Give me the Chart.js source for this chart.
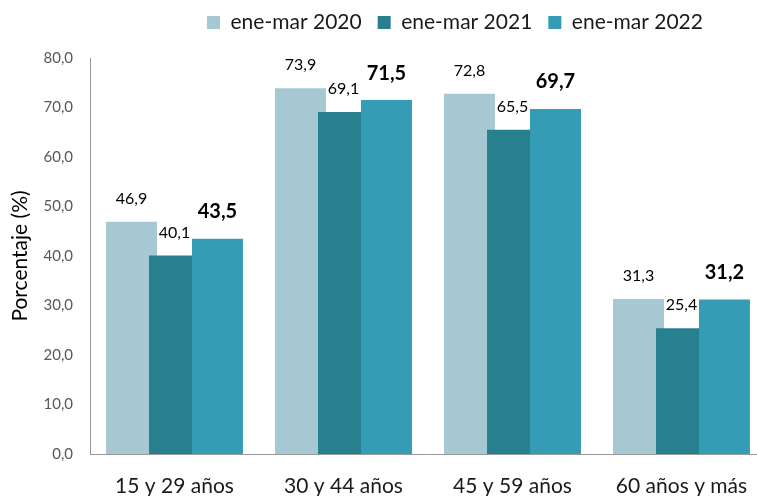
<!DOCTYPE html>
<html><head><meta charset="utf-8">
<script src="https://cdn.jsdelivr.net/npm/chart.js@4"></script>
<style>
html,body{margin:0;padding:0;overflow:hidden;background:#fff;width:757px;height:496px}
#wrap{position:absolute;left:0;top:0;width:768px;height:496px}
</style>
</head><body><div id="wrap"><canvas id="c" width="768" height="496" style="width:768px;height:496px"></canvas></div>
<script>
const categories = ['15 y 29 años', '30 y 44 años', '45 y 59 años', '60 años y más'];
const seriesNames = ['ene-mar 2020', 'ene-mar 2021', 'ene-mar 2022'];
const values2020 = [46.9, 73.9, 72.8, 31.3];
const values2021 = [40.1, 69.1, 65.5, 25.4];
const values2022 = [43.5, 71.5, 69.7, 31.2];
const yTicks = [0, 10, 20, 30, 40, 50, 60, 70, 80];

const colors = ['#A6C8D3', '#28808F', '#349CB5'];
const FONT = 'Lato';
const fmt = v => v.toFixed(1).replace('.', ',');

// draw datasets left-to-right so later series overlap earlier ones
const drawOrderPlugin = {
  id: 'drawOrder',
  beforeDatasetsDraw(chart) {
    for (let i = 0; i < chart.data.datasets.length; i++) {
      const meta = chart.getDatasetMeta(i);
      if (chart.isDatasetVisible(i)) meta.controller.draw();
    }
    return false;
  }
};

const labelsPlugin = {
  id: 'barLabels',
  afterDraw(chart) {
    const ctx = chart.ctx;
    ctx.save();
    ctx.textAlign = 'center';
    ctx.textBaseline = 'middle';
    ctx.fillStyle = '#000';
    chart.data.datasets.forEach((ds, i) => {
      const meta = chart.getDatasetMeta(i);
      const bold = i === 2;
      ctx.font = (bold ? 'bold 20px ' : '16px ') + FONT;
      meta.data.forEach((el, j) => {
        ctx.fillText(fmt(ds.data[j]), el.x, el.y - (bold ? 27 : 23));
      });
    });
    ctx.restore();
  }
};

const legendShift = {
  id: 'legendShift',
  afterLayout(chart) {
    const lg = chart.legend;
    if (!lg) return;
    const dx = 72, dy = -15;
    lg.left += dx; lg.right += dx;
    lg.top += dy; lg.bottom += dy;
  }
};

const seriesValues = [values2020, values2021, values2022];

new Chart(document.getElementById('c'), {
  type: 'bar',
  data: {
    labels: categories,
    datasets: seriesNames.map((name, i) => ({
      label: name,
      data: seriesValues[i],
      backgroundColor: colors[i],
      borderWidth: 0,
      categoryPercentage: 0.763,
      barPercentage: 1.186
    }))
  },
  options: {
    responsive: false,
    animation: false,
    devicePixelRatio: 1,
    layout: { padding: { top: 11, right: 2, left: 0, bottom: 0 } },
    plugins: {
      legend: {
        position: 'top',
        align: 'center',
        labels: {
          font: { family: FONT, size: 21 },
          color: '#1a1a1a',
          boxWidth: 13,
          boxHeight: 13,
          padding: 16
        }
      },
      tooltip: { enabled: false }
    },
    scales: {
      x: {
        grid: { display: false, drawTicks: false },
        border: { display: true, color: '#9a9a9a', width: 1 },
        ticks: { font: { family: FONT, size: 21 }, color: '#1a1a1a', padding: 20, maxRotation: 0 },
        afterFit(s) { s.height = 42; }
      },
      y: {
        min: 0, max: 80,
        grid: { display: false, drawTicks: false },
        border: { display: true, color: '#9a9a9a', width: 1 },
        afterBuildTicks(s) { s.ticks = yTicks.map(v => ({ value: v })); },
        ticks: {
          font: { family: FONT, size: 15 },
          color: '#595959',
          padding: 17,
          callback: v => fmt(v)
        },
        title: {
          display: true,
          text: 'Porcentaje (%)',
          font: { family: FONT, size: 21 },
          color: '#000',
          padding: { top: 8, bottom: 0 }
        },
        afterFit(s) { s.width = 90; }
      }
    }
  },
  plugins: [drawOrderPlugin, labelsPlugin, legendShift]
});
</script>
</body></html>
